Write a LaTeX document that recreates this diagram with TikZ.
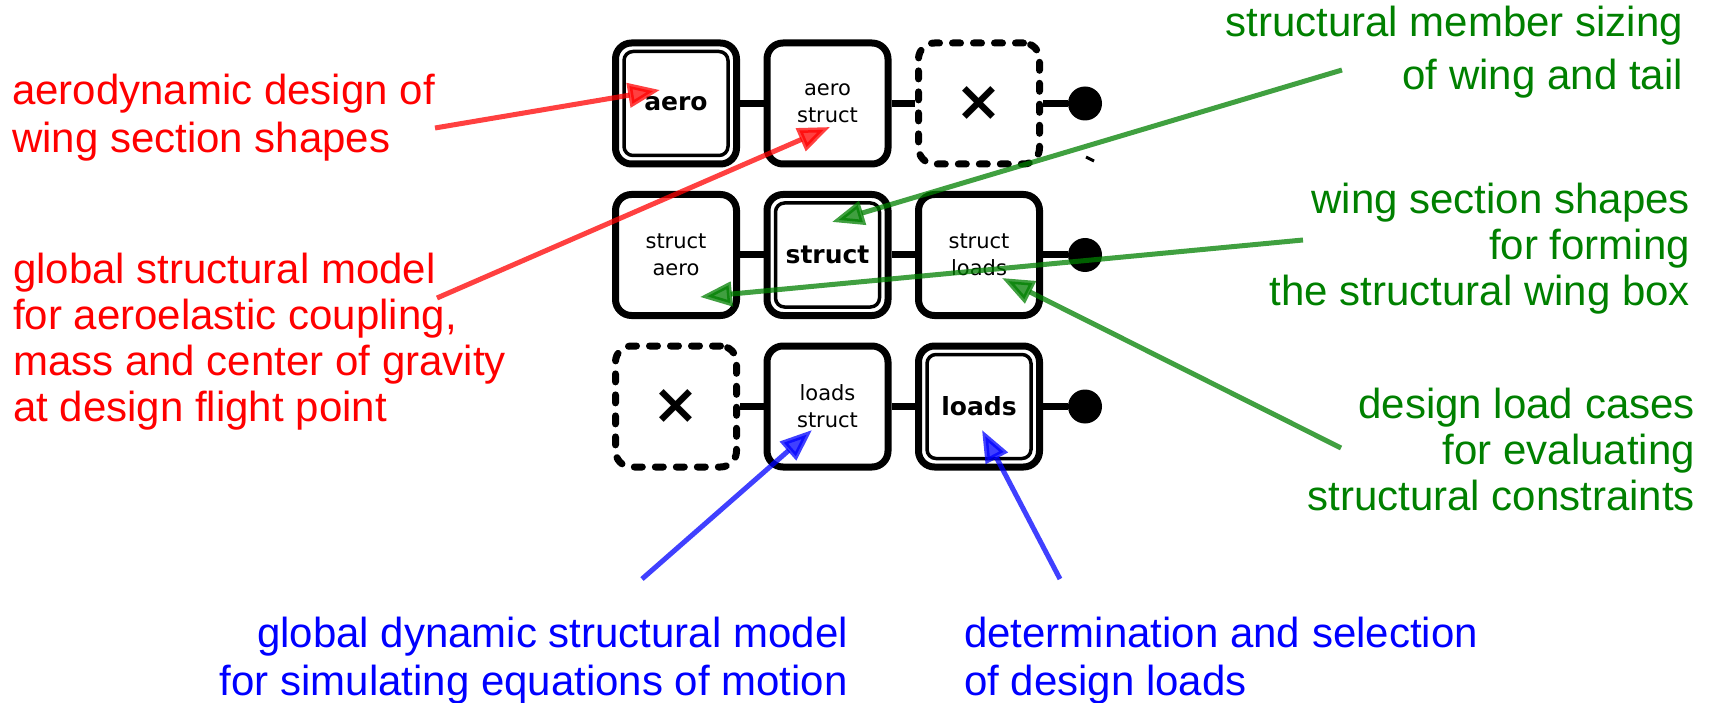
\documentclass[tikz,border=0pt]{standalone}
\usepackage{fontspec}
\setmainfont{Liberation Sans}
\newfontfamily\boxfont{DejaVu Sans}
\usetikzlibrary{arrows.meta}
\definecolor{NoteRed}{HTML}{FF0000}
\definecolor{NoteGreen}{HTML}{008000}
\definecolor{NoteBlue}{HTML}{0000FF}

\tikzset{
  box/.style={draw, fill=white, line width=7pt, rounded corners=16pt,
    minimum size=121pt, inner sep=0pt, align=center,
    font=\boxfont\fontsize{21}{27}\selectfont},
  diag/.style={box, font=\boxfont\bfseries\fontsize{25}{30}\selectfont,
    path picture={\draw[line width=3.5pt, rounded corners=9pt]
      ([shift={(8.5pt,-8.5pt)}]path picture bounding box.north west) rectangle
      ([shift={(-8.5pt,8.5pt)}]path picture bounding box.south east);}},
  voidbox/.style={box, dash pattern=on 8pt off 13pt, line cap=round,
    font=\boxfont\bfseries\fontsize{56}{56}\selectfont},
  outdot/.style={circle, fill=black, minimum size=34pt, inner sep=0pt},
  link/.style={line width=7pt},
  note/.style={inner sep=0pt, font=\fontsize{42}{46}\selectfont},
  pointer/.style={line width=5pt, opacity=0.75, -{Triangle[length=32pt,width=24pt]}}
}

\begin{document}
\begin{tikzpicture}[x=1pt,y=-1pt]
  \useasboundingbox (0,0) rectangle (1712,703);

  % first row
  \node[diag] (aero) at (676,103.5) {aero};
  \node[box] (aerostruct) at (827.5,103.5) {aero\\struct};
  \node[voidbox] (void1) at (979,103.5) {×};
  \node[outdot] (out1) at (1085,103.5) {};

  % second row
  \node[box] (structaero) at (676,255) {struct\\aero};
  \node[diag] (struct) at (827.5,255) {struct};
  \node[box] (structloads) at (979,255) {struct\\loads};
  \node[outdot] (out2) at (1085,255) {};

  % third row
  \node[voidbox] (void3) at (676,406.5) {×};
  \node[box] (loadsstruct) at (827.5,406.5) {loads\\struct};
  \node[diag] (loads) at (979,406.5) {loads};
  \node[outdot] (out3) at (1085,406.5) {};

  \foreach \a/\b in {aero/aerostruct, aerostruct/void1, void1/out1,
      structaero/struct, struct/structloads, structloads/out2,
      void3/loadsstruct, loadsstruct/loads, loads/out3}
    \draw[link] (\a) -- (\b);

  \draw[line width=3pt] (1086,157) -- (1094,161);

  % notes (base = baseline of the last line)
  \node[note, text=NoteRed, anchor=base west, align=left,
    font=\fontsize{42}{48}\selectfont] (aeroNote) at (12,153)
    {aerodynamic design of\\wing section shapes};
  \node[note, text=NoteRed, anchor=base west, align=left] (globalNote) at (13,421)
    {global structural model\\for aeroelastic coupling,\\mass and center of gravity\\at design flight point};
  \node[note, text=NoteGreen, anchor=base east, align=right,
    font=\fontsize{42}{53}\selectfont] (sizingNote) at (1683,90)
    {structural member sizing\\of wing and tail};
  \node[note, text=NoteGreen, anchor=base east, align=right] (shapesNote) at (1690,305)
    {wing section shapes\\for forming\\the structural wing box};
  \node[note, text=NoteGreen, anchor=base east, align=right] (casesNote) at (1695,510)
    {design load cases\\for evaluating\\structural constraints};
  \node[note, text=NoteBlue, anchor=base east, align=right,
    font=\fontsize{42}{48}\selectfont] (dynNote) at (848,695)
    {global dynamic structural model\\for simulating equations of motion};
  \node[note, text=NoteBlue, anchor=base west, align=left,
    font=\fontsize{42}{48}\selectfont] (selNote) at (964,695)
    {determination and selection\\of design loads};

  % pointers
  \coordinate (aeroFrom) at (435,128);
  \coordinate (aeroTo) at (660,90);
  \coordinate (globalFrom) at (437,298);
  \coordinate (globalTo) at (830,127);
  \coordinate (sizingFrom) at (1342,70);
  \coordinate (sizingTo) at (832,222);
  \coordinate (shapesFrom) at (1303,240);
  \coordinate (shapesTo) at (700,297);
  \coordinate (casesFrom) at (1341,448);
  \coordinate (casesTo) at (1002,278);
  \coordinate (dynFrom) at (642,579);
  \coordinate (dynTo) at (812,430);
  \coordinate (selFrom) at (1060,579);
  \coordinate (selTo) at (982,430);

  \draw[pointer, NoteRed] (aeroFrom) -- (aeroTo);
  \draw[pointer, NoteRed] (globalFrom) -- (globalTo);
  \draw[pointer, NoteGreen] (sizingFrom) -- (sizingTo);
  \draw[pointer, NoteGreen] (shapesFrom) -- (shapesTo);
  \draw[pointer, NoteGreen] (casesFrom) -- (casesTo);
  \draw[pointer, NoteBlue] (dynFrom) -- (dynTo);
  \draw[pointer, NoteBlue] (selFrom) -- (selTo);
\end{tikzpicture}
\end{document}
